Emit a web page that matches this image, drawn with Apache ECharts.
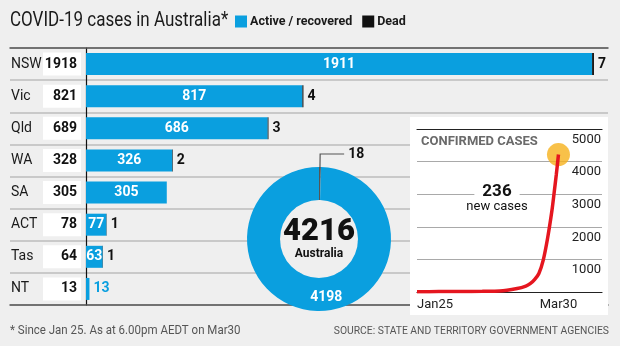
<!DOCTYPE html>
<html><head><meta charset="utf-8">
<script src="https://cdn.jsdelivr.net/npm/echarts@6/dist/echarts.min.js"></script>
<style>html,body{margin:0;padding:0;background:#efefef}#c{width:620px;height:346px}</style>
</head><body><div id="c"></div>
<script>
// ---- data ----
const states = ['NSW', 'Vic', 'Qld', 'WA', 'SA', 'ACT', 'Tas', 'NT'];
const totals = [1918, 821, 689, 328, 305, 78, 64, 13];
const active = [1911, 817, 686, 326, 305, 77, 63, 13];
const dead = [7, 4, 3, 2, 0, 1, 1, 0];
const australiaTotal = 4216;
const australiaActive = 4198;
const australiaDead = 18;
const newCases = 236;
// days since Jan 25 and cumulative confirmed cases
const trendDays = [0, 10, 20, 30, 38, 46, 50, 52, 54, 56, 58, 60, 62, 63, 64, 65];
const trendCases = [5, 12, 15, 22, 30, 105, 180, 255, 380, 570, 980, 1650, 2500, 3040, 3600, 4216];
const trendTickDays = [0, 65];
const trendTickLabels = ['Jan25', 'Mar30'];

// ---- styles ----
const BLUE = '#0a9fdf';
const BG = '#efefef';
const FONT = 'Roboto, sans-serif';

const chart = echarts.init(document.getElementById('c'), null, { renderer: 'canvas' });

const labelMap = {};
states.forEach((s, i) => { labelMap[s] = totals[i]; });

chart.setOption({
  backgroundColor: BG,
  animation: false,
  textStyle: { fontFamily: FONT },
  legend: {
    data: ['Active / recovered', 'Dead'],
    left: 235, top: 15, padding: 0,
    itemWidth: 12, itemHeight: 12, itemGap: 10, icon: 'rect',
    textStyle: { fontFamily: FONT, fontSize: 12.5, fontWeight: 'bold', color: '#1a1a1a', padding: [0, 0, 0, -2] }
  },
  grid: [
    { left: 10, right: 12, top: 48, bottom: 41, containLabel: false, outerBoundsMode: 'none' },
    { left: 417, right: 18, top: 129, bottom: 54, containLabel: false, outerBoundsMode: 'none' }
  ],
  xAxis: [
    { gridIndex: 0, type: 'value', min: -287, max: 1971, position: 'bottom',
      axisLine: { show: true, onZero: false, lineStyle: { color: '#555', width: 1.5 } },
      axisTick: { show: false }, axisLabel: { show: false }, splitLine: { show: false } },
    { gridIndex: 0, type: 'value', min: -287, max: 1971, position: 'top',
      axisLine: { show: true, onZero: false, lineStyle: { color: '#555', width: 1.5 } },
      axisTick: { show: false }, axisLabel: { show: false }, splitLine: { show: false } },
    { gridIndex: 1, type: 'value', min: 0, max: 85, position: 'bottom', z: 3,
      axisLine: { show: true, onZero: false, lineStyle: { color: '#222', width: 1.2 } },
      axisTick: { show: false }, splitLine: { show: false },
      axisLabel: { show: true, customValues: trendTickDays, alignMinLabel: 'left', margin: 6,
        fontFamily: FONT, fontSize: 13, color: '#222',
        formatter: v => trendTickLabels[trendTickDays.indexOf(v)] || '' } },
    { gridIndex: 1, type: 'value', min: 0, max: 85, position: 'top', z: 4,
      axisLine: { show: true, onZero: false, lineStyle: { color: '#222', width: 1.2 } },
      axisTick: { show: false }, axisLabel: { show: false }, splitLine: { show: false } }
  ],
  yAxis: [
    { gridIndex: 0, type: 'category', data: states, inverse: true,
      axisLine: { show: true, onZero: true, lineStyle: { color: '#111', width: 1.2 } },
      axisTick: { show: false },
      splitLine: { show: true, lineStyle: { color: '#bdbdbd', width: 1.5 } },
      axisLabel: {
        margin: -71,
        formatter: s => '{s|' + s + '}{t|' + labelMap[s] + '}',
        rich: {
          s: { width: 32, align: 'left', fontFamily: FONT, fontSize: 14, color: '#1a1a1a' },
          t: { width: 34, height: 23, lineHeight: 23, align: 'right', padding: [0, 4, 0, 0],
               backgroundColor: '#ffffff', fontFamily: FONT, fontSize: 14, fontWeight: 'bold', color: '#111' }
        }
      } },
    { gridIndex: 1, type: 'value', position: 'right', min: 0, max: 5000, interval: 1000, z: 3,
      axisLine: { show: false }, axisTick: { show: false },
      splitLine: { show: true, lineStyle: { color: '#a9a9a9', width: 1.2 } },
      axisLabel: { inside: true, margin: 1, verticalAlign: 'top', padding: [4, 0, 0, 0],
        fontFamily: FONT, fontSize: 13, color: '#222',
        formatter: v => (v === 0 ? '' : String(v)) } }
  ],
  series: [
    { name: 'Active / recovered', type: 'bar', stack: 'st', xAxisIndex: 0, yAxisIndex: 0,
      barWidth: 22, itemStyle: { color: BLUE },
      label: { show: true, position: 'inside', color: '#fff', fontFamily: FONT, fontSize: 14, fontWeight: 'bold' },
      data: active.map(v => v < 40
        ? { value: v, label: { position: 'right', distance: 4, color: BLUE } }
        : v) },
    { name: 'Dead', type: 'bar', stack: 'st', xAxisIndex: 0, yAxisIndex: 0,
      barWidth: 22, itemStyle: { color: '#111' },
      label: { show: true, position: 'right', distance: 4, color: '#111', fontFamily: FONT, fontSize: 14, fontWeight: 'bold',
        formatter: p => (p.value ? String(p.value) : '') },
      data: dead },
    { name: 'centre', type: 'pie', center: [319, 239], radius: [0, 39], silent: true, z: 3,
      itemStyle: { color: BG }, labelLine: { show: false },
      label: { show: true, position: 'center',
        formatter: () => '{a|' + australiaTotal + '}\n{b|Australia}',
        rich: {
          a: { fontFamily: FONT, fontSize: 31, fontWeight: 900, color: '#111', lineHeight: 30 },
          b: { fontFamily: FONT, fontSize: 12, fontWeight: 'bold', color: '#111', lineHeight: 14 }
        } },
      data: [{ name: 'Australia', value: australiaTotal }] },
    { name: 'australia', type: 'pie', center: [319, 239], radius: [39, 72], startAngle: 90, clockwise: true,
      silent: true, z: 3, avoidLabelOverlap: false,
      data: [
        { name: 'Australia dead', value: australiaDead, itemStyle: { color: '#555' },
          label: { show: true, position: 'outside', color: '#111', fontFamily: FONT, fontSize: 14, fontWeight: 'bold',
            distanceToLabelLine: 4, formatter: '{c}' },
          labelLine: { show: true, length: 13, length2: 24, lineStyle: { color: '#555', width: 1.2 } } },
        { name: 'Australia active', value: australiaActive, itemStyle: { color: BLUE },
          label: { show: true, position: 'inside', color: '#fff', fontFamily: FONT, fontSize: 14, fontWeight: 'bold',
            formatter: '{c}', offset: [8, 0] },
          labelLine: { show: false } }
      ] },
    { name: 'latest', type: 'scatter', xAxisIndex: 2, yAxisIndex: 1, z: 4, silent: true,
      symbolSize: 23, itemStyle: { color: '#f6b11b' },
      data: [[trendDays[trendDays.length - 1], trendCases[trendCases.length - 1]]] },
    { name: 'confirmed', type: 'line', xAxisIndex: 2, yAxisIndex: 1, z: 5, silent: true,
      smooth: 0.3, showSymbol: false, symbol: 'none',
      lineStyle: { color: '#e5161f', width: 3.5 },
      data: trendDays.map((d, i) => [d, trendCases[i]]) }
  ],
  graphic: [
    { type: 'text', z: 10, x: 10, y: 21, scaleX: 0.81, silent: true,
      style: { text: 'COVID-19 cases in Australia*', font: '21px ' + FONT, fill: '#1a1a1a', verticalAlign: 'middle' } },
    { type: 'rect', z: 1, shape: { x: 410, y: 117, width: 198, height: 198 }, style: { fill: '#ffffff' }, silent: true },
    { type: 'text', z: 10, x: 421, y: 142, silent: true,
      style: { text: 'CONFIRMED CASES', font: 'bold 13px ' + FONT, fill: '#6a6a6a', verticalAlign: 'middle' } },
    { type: 'text', z: 10, x: 497, y: 192, silent: true,
      style: { text: String(newCases), font: 'bold 17px ' + FONT, fill: '#111', align: 'center', verticalAlign: 'middle',
        backgroundColor: '#ffffff', padding: [0, 8, 0, 8] } },
    { type: 'text', z: 10, x: 497, y: 207, silent: true,
      style: { text: 'new cases', font: '13px ' + FONT, fill: '#111', align: 'center', verticalAlign: 'middle' } },
    { type: 'text', z: 10, x: 10, y: 331, scaleX: 0.885, silent: true,
      style: { text: '* Since Jan 25. As at 6.00pm AEDT on Mar30', font: '13px ' + FONT, fill: '#555', verticalAlign: 'middle' } },
    { type: 'text', z: 10, x: 609, y: 331, scaleX: 0.94, silent: true,
      style: { text: 'SOURCE: STATE AND TERRITORY GOVERNMENT AGENCIES', font: '11px ' + FONT, fill: '#555', align: 'right', verticalAlign: 'middle' } }
  ]
});
</script>
</body></html>
